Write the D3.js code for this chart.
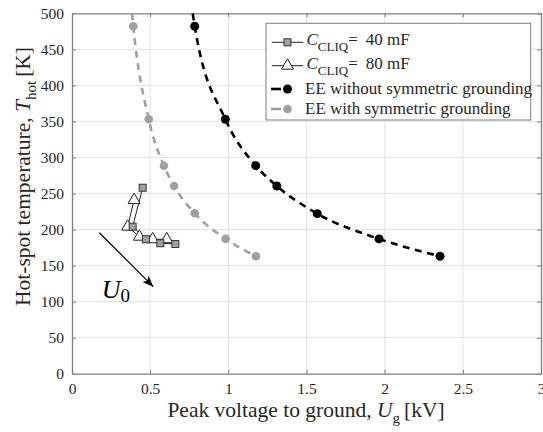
<!DOCTYPE html>
<html>
<head>
<meta charset="utf-8">
<script src="https://cdn.jsdelivr.net/npm/d3@7"></script>
<style>
  html, body { margin: 0; padding: 0; background: #fff; }
  svg { display: block; font-family: "Liberation Serif", "DejaVu Serif", serif; }
</style>
</head>
<body>
<svg id="chart" width="543" height="432"></svg>
<script>
// values
const xTicks = [0, 0.5, 1, 1.5, 2, 2.5, 3];
const yTicks = [0, 50, 100, 150, 200, 250, 300, 350, 400, 450, 500];

// C_CLIQ = 40 mF (squares)
const cliq40U = [0.452, 0.388, 0.473, 0.565, 0.661];
const cliq40T = [258, 204, 186.5, 181, 180];
// C_CLIQ = 80 mF (triangles)
const cliq80U = [0.397, 0.356, 0.431, 0.516, 0.606];
const cliq80T = [241, 204, 190, 186.5, 186.5];

// EE without symmetric grounding (black)
const eeNoGndU = [0.785, 0.981, 1.175, 1.31, 1.569, 1.964, 2.354];
const eeNoGndT = [482, 353, 288.6, 260.4, 222, 187, 163];
// EE with symmetric grounding (gray)
const eeGndU = [0.392, 0.491, 0.588, 0.653, 0.785, 0.983, 1.177];
const eeGndT = [482, 353, 288.6, 260.4, 222.5, 187, 163];
// where the dashed fit curves leave the top of the axes
const eeNoGndTop = [0.772, 500];
const eeGndTop = [0.384, 500];

// U0 arrow annotation
const arrowU = [0.175, 0.52];
const arrowT = [195.6, 120.7];
const labelPos = [0.19, 105];

const MARGINS = { top: 13.3, right: 2, bottom: 58.3, left: 72 };
const svg = d3.select('#chart');
const width = +svg.attr('width');
const height = +svg.attr('height');
const chartWidth = width - MARGINS.left - MARGINS.right;
const chartHeight = height - MARGINS.top - MARGINS.bottom;

const x = d3.scaleLinear().domain([0, 3]).range([MARGINS.left, MARGINS.left + chartWidth]);
const y = d3.scaleLinear().domain([0, 500]).range([MARGINS.top + chartHeight, MARGINS.top]);

const zip = (us, ts) => us.map((u, i) => [u, ts[i]]);
const cliq40 = zip(cliq40U, cliq40T);
const cliq80 = zip(cliq80U, cliq80T);
const eeNoGnd = zip(eeNoGndU, eeNoGndT);
const eeGnd = zip(eeGndU, eeGndT);

const AXIS_COLOR = '#7f7f7f';
const TEXT_COLOR = '#262626';
const GRAY = '#a0a0a0';

svg.append('defs').append('clipPath').attr('id', 'plot-clip')
  .append('rect')
  .attr('x', MARGINS.left).attr('y', MARGINS.top)
  .attr('width', chartWidth).attr('height', chartHeight);

svg.append('defs').append('marker')
  .attr('id', 'arrow-head')
  .attr('viewBox', '0 0 10 10')
  .attr('refX', 10).attr('refY', 5)
  .attr('markerWidth', 11).attr('markerHeight', 11)
  .attr('markerUnits', 'userSpaceOnUse')
  .attr('orient', 'auto')
  .append('path')
  .attr('d', 'M0,1 L10,5 L0,9 L2.5,5 Z')
  .attr('fill', '#000');

// grid
const grid = svg.append('g').attr('class', 'grid');
grid.selectAll('line.gx')
  .data(xTicks.slice(1, -1))
  .join('line')
  .attr('class', 'gx')
  .attr('x1', d => x(d)).attr('x2', d => x(d))
  .attr('y1', MARGINS.top).attr('y2', MARGINS.top + chartHeight)
  .attr('stroke', '#e3e3e3').attr('stroke-width', 1);
grid.selectAll('line.gy')
  .data(yTicks.slice(1, -1))
  .join('line')
  .attr('class', 'gy')
  .attr('x1', MARGINS.left).attr('x2', MARGINS.left + chartWidth)
  .attr('y1', d => y(d)).attr('y2', d => y(d))
  .attr('stroke', '#e3e3e3').attr('stroke-width', 1);

// axes (box with inward ticks)
const styleAxis = (g) => {
  g.select('.domain').attr('stroke', AXIS_COLOR).attr('stroke-width', 1.3);
  g.selectAll('.tick line').attr('stroke', AXIS_COLOR);
  g.selectAll('.tick text')
    .attr('fill', TEXT_COLOR)
    .style('font-family', '"Liberation Serif", serif')
    .style('font-size', '15.5px');
};

svg.append('g')
  .attr('transform', `translate(0,${MARGINS.top + chartHeight})`)
  .call(d3.axisBottom(x).tickValues(xTicks).tickSize(-4).tickSizeOuter(0).tickPadding(9).tickFormat(d3.format('')))
  .call(styleAxis);
svg.append('g')
  .attr('transform', `translate(${MARGINS.left},0)`)
  .call(d3.axisLeft(y).tickValues(yTicks).tickSize(-4).tickSizeOuter(0).tickPadding(8))
  .call(styleAxis);
svg.append('g')
  .attr('transform', `translate(0,${MARGINS.top})`)
  .call(d3.axisTop(x).tickValues(xTicks).tickSize(-4).tickSizeOuter(0).tickFormat(''))
  .call(styleAxis);
svg.append('g')
  .attr('transform', `translate(${MARGINS.left + chartWidth},0)`)
  .call(d3.axisRight(y).tickValues(yTicks).tickSize(-4).tickSizeOuter(0).tickFormat(''))
  .call(styleAxis);

const plot = svg.append('g').attr('clip-path', 'url(#plot-clip)');

const fitLine = d3.line()
  .x(d => x(d[0]))
  .y(d => y(d[1]))
  .curve(d3.curveMonotoneX);
const polyLine = d3.line()
  .x(d => x(d[0]))
  .y(d => y(d[1]));

// dashed EE curves
plot.append('path')
  .datum([eeGndTop, ...eeGnd])
  .attr('d', fitLine)
  .attr('fill', 'none')
  .attr('stroke', GRAY)
  .attr('stroke-width', 2.6)
  .attr('stroke-dasharray', '7,5.5');
plot.append('path')
  .datum([eeNoGndTop, ...eeNoGnd])
  .attr('d', fitLine)
  .attr('fill', 'none')
  .attr('stroke', '#000')
  .attr('stroke-width', 2.6)
  .attr('stroke-dasharray', '7,5.5');

plot.append('g')
  .selectAll('circle')
  .data(eeGnd)
  .join('circle')
  .attr('cx', d => x(d[0])).attr('cy', d => y(d[1]))
  .attr('r', 4.3)
  .attr('fill', GRAY);
plot.append('g')
  .selectAll('circle')
  .data(eeNoGnd)
  .join('circle')
  .attr('cx', d => x(d[0])).attr('cy', d => y(d[1]))
  .attr('r', 4.5)
  .attr('fill', '#000');

// CLIQ series
plot.append('path')
  .datum(cliq80)
  .attr('d', polyLine)
  .attr('fill', 'none')
  .attr('stroke', '#222')
  .attr('stroke-width', 1);
plot.append('path')
  .datum(cliq40)
  .attr('d', polyLine)
  .attr('fill', 'none')
  .attr('stroke', '#222')
  .attr('stroke-width', 1);

const triangle = d3.symbol(d3.symbolTriangle, 62);
plot.append('g')
  .selectAll('path')
  .data(cliq80)
  .join('path')
  .attr('transform', d => `translate(${x(d[0])},${y(d[1])})`)
  .attr('d', triangle)
  .attr('fill', '#fff')
  .attr('stroke', '#222')
  .attr('stroke-width', 1);

plot.append('g')
  .selectAll('rect')
  .data(cliq40)
  .join('rect')
  .attr('x', d => x(d[0]) - 3.5)
  .attr('y', d => y(d[1]) - 3.5)
  .attr('width', 7).attr('height', 7)
  .attr('fill', GRAY)
  .attr('stroke', '#333')
  .attr('stroke-width', 1);

// U0 arrow + label
svg.append('line')
  .attr('x1', x(arrowU[0])).attr('y1', y(arrowT[0]))
  .attr('x2', x(arrowU[1])).attr('y2', y(arrowT[1]))
  .attr('stroke', '#000')
  .attr('stroke-width', 1.2)
  .attr('marker-end', 'url(#arrow-head)');

const u0 = svg.append('text')
  .attr('x', x(labelPos[0]))
  .attr('y', y(labelPos[1]))
  .attr('fill', '#000')
  .style('font-size', '26px');
u0.append('tspan').style('font-style', 'italic').text('U');
u0.append('tspan').attr('dy', 4).style('font-size', '19px').text('0');

// legend
const legend = svg.append('g').attr('transform', 'translate(266,23.3)');
legend.append('rect')
  .attr('width', 264.7).attr('height', 96.7)
  .attr('fill', '#fff')
  .attr('stroke', AXIS_COLOR)
  .attr('stroke-width', 1);

const rowY = [19, 42.4, 65.7, 85.7];

// row 1 & 2: CLIQ
[0, 1].forEach(i => {
  legend.append('line')
    .attr('x1', 5.7).attr('x2', 37.3)
    .attr('y1', rowY[i]).attr('y2', rowY[i])
    .attr('stroke', '#222').attr('stroke-width', 1);
});
legend.append('rect')
  .attr('x', 21.5 - 3.5).attr('y', rowY[0] - 3.5)
  .attr('width', 7).attr('height', 7)
  .attr('fill', GRAY).attr('stroke', '#333');
legend.append('path')
  .attr('transform', `translate(21.5,${rowY[1]})`)
  .attr('d', triangle)
  .attr('fill', '#fff').attr('stroke', '#222');

const cliqLabels = ['40 mF', '80 mF'];
cliqLabels.forEach((lab, i) => {
  const t = legend.append('text')
    .attr('x', 40.5)
    .attr('y', rowY[i] + 3)
    .attr('fill', TEXT_COLOR)
    .style('font-size', '17px');
  t.append('tspan').style('font-style', 'italic').text('C');
  t.append('tspan').attr('dy', 6).style('font-size', '13px').text('CLIQ');
  t.append('tspan').attr('dy', -6).text('=');
  t.append('tspan').attr('dx', 8).text(lab);
});

// row 3 & 4: EE
const eeLegend = [
  { label: 'EE without symmetric grounding', color: '#000', r: 4.5 },
  { label: 'EE with symmetric grounding', color: GRAY, r: 4.3 }
];
eeLegend.forEach((e, i) => {
  const yy = rowY[i + 2];
  legend.append('line')
    .attr('x1', 5).attr('x2', 15)
    .attr('y1', yy).attr('y2', yy)
    .attr('stroke', e.color).attr('stroke-width', 2.6);
  legend.append('line')
    .attr('x1', 19).attr('x2', 25)
    .attr('y1', yy).attr('y2', yy)
    .attr('stroke', e.color).attr('stroke-width', 2.6);
  legend.append('circle')
    .attr('cx', 21.5).attr('cy', yy).attr('r', e.r)
    .attr('fill', e.color);
  legend.append('text')
    .attr('x', 39)
    .attr('y', yy + 5.5)
    .attr('fill', TEXT_COLOR)
    .style('font-size', '17px')
    .text(e.label);
});

// axis titles
const xTitle = svg.append('text')
  .attr('x', MARGINS.left + chartWidth / 2 - 0.5)
  .attr('y', 417)
  .attr('text-anchor', 'middle')
  .attr('fill', TEXT_COLOR)
  .style('font-size', '21.5px');
xTitle.append('tspan').text('Peak voltage to ground, ');
xTitle.append('tspan').style('font-style', 'italic').text('U');
xTitle.append('tspan').attr('dy', 6).style('font-size', '15px').text('g');
xTitle.append('tspan').attr('dy', -6).attr('dx', 4).text('[kV]');

const yTitle = svg.append('text')
  .attr('transform', `translate(30,${MARGINS.top + chartHeight / 2 - 17}) rotate(-90)`)
  .attr('text-anchor', 'middle')
  .attr('fill', TEXT_COLOR)
  .style('font-size', '21.5px');
yTitle.append('tspan').text('Hot-spot temperature, ');
yTitle.append('tspan').style('font-style', 'italic').text('T');
yTitle.append('tspan').attr('dy', 6).style('font-size', '15px').text('hot');
yTitle.append('tspan').attr('dy', -6).attr('dx', 4).text('[K]');
</script>
</body>
</html>
